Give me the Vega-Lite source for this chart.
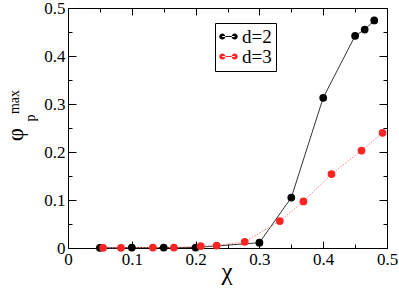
{
  "$schema": "https://vega.github.io/schema/vega-lite/v6.json",
  "width": 319,
  "height": 240,
  "autosize": "none",
  "padding": {"left": 68, "top": 8, "right": 12, "bottom": 42},
  "background": "white",
  "config": {
    "view": {"stroke": null},
    "axis": {
      "labelColor": "black",
      "titleColor": "black",
      "titleFontWeight": "normal",
      "domainColor": "black",
      "domainWidth": 1,
      "tickColor": "black",
      "tickWidth": 1,
      "grid": false,
      "labelFlush": false,
      "labelOverlap": false
    }
  },
  "data": {
    "values": [
      {"chi": 0.05, "phi": 0.0005, "d": "d=2"},
      {"chi": 0.1, "phi": 0.001, "d": "d=2"},
      {"chi": 0.15, "phi": 0.001, "d": "d=2"},
      {"chi": 0.2, "phi": 0.001, "d": "d=2"},
      {"chi": 0.3, "phi": 0.011, "d": "d=2"},
      {"chi": 0.35, "phi": 0.105, "d": "d=2"},
      {"chi": 0.4, "phi": 0.313, "d": "d=2"},
      {"chi": 0.45, "phi": 0.442, "d": "d=2"},
      {"chi": 0.465, "phi": 0.455, "d": "d=2"},
      {"chi": 0.48, "phi": 0.474, "d": "d=2"},
      {"chi": 0.055, "phi": 0.0005, "d": "d=3"},
      {"chi": 0.083, "phi": 0.0005, "d": "d=3"},
      {"chi": 0.133, "phi": 0.001, "d": "d=3"},
      {"chi": 0.166, "phi": 0.001, "d": "d=3"},
      {"chi": 0.208, "phi": 0.004, "d": "d=3"},
      {"chi": 0.233, "phi": 0.005, "d": "d=3"},
      {"chi": 0.277, "phi": 0.013, "d": "d=3"},
      {"chi": 0.332, "phi": 0.056, "d": "d=3"},
      {"chi": 0.369, "phi": 0.097, "d": "d=3"},
      {"chi": 0.413, "phi": 0.154, "d": "d=3"},
      {"chi": 0.46, "phi": 0.203, "d": "d=3"},
      {"chi": 0.493, "phi": 0.24, "d": "d=3"}
    ]
  },
  "layer": [
    {
      "encoding": {
        "x": {
          "field": "chi", "type": "quantitative",
          "scale": {"domain": [0, 0.5], "nice": false, "zero": false},
          "axis": {
            "orient": "bottom",
            "values": [0, 0.05, 0.1, 0.15, 0.2, 0.25, 0.3, 0.35, 0.4, 0.45, 0.5],
            "labelExpr": "abs(datum.value*10 - round(datum.value*10)) < 0.001 ? (datum.value == 0 ? '0' : format(datum.value, '.1f')) : ''",
            "tickSize": {"condition": {"test": "abs(datum.value*10 - round(datum.value*10)) < 0.001", "value": -7}, "value": -4},
            "labelPadding": 10,
            "labelFont": "Liberation Serif",
            "labelFontSize": 17,
            "title": "χ",
            "titleFont": "Liberation Serif",
            "titleFontSize": 25,
            "titleBaseline": "alphabetic",
            "titleAlign": "center",
            "titleX": 158.5,
            "titleY": 31.4
          }
        },
        "y": {
          "field": "phi", "type": "quantitative",
          "scale": {"domain": [0, 0.5], "nice": false, "zero": false},
          "axis": {
            "orient": "left",
            "values": [0, 0.05, 0.1, 0.15, 0.2, 0.25, 0.3, 0.35, 0.4, 0.45, 0.5],
            "labelExpr": "abs(datum.value*10 - round(datum.value*10)) < 0.001 ? (datum.value == 0 ? '0' : format(datum.value, '.1f')) : ''",
            "tickSize": {"condition": {"test": "abs(datum.value*10 - round(datum.value*10)) < 0.001", "value": -8}, "value": -4},
            "labelPadding": 11,
            "labelFont": "Liberation Serif",
            "labelFontSize": 17,
            "title": "p",
            "titleFont": "Liberation Serif",
            "titleFontSize": 14,
            "titleAngle": 270,
            "titleBaseline": "alphabetic",
            "titleAlign": "center",
            "titleX": -33.7,
            "titleY": 109.5
          }
        }
      },
      "layer": [
        {
          "transform": [{"filter": "datum.d == 'd=2'"}],
          "mark": {"type": "line", "color": "#333333", "strokeWidth": 1}
        },
        {
          "transform": [{"filter": "datum.d == 'd=3'"}],
          "mark": {"type": "line", "color": "#ff8080", "strokeWidth": 1, "strokeDash": [1.5, 1.5]}
        },
        {
          "mark": {"type": "circle", "size": 60, "opacity": 1},
          "encoding": {
            "color": {
              "field": "d", "type": "nominal",
              "scale": {"domain": ["d=2", "d=3"], "range": ["#000000", "#ff2424"]},
              "legend": {
                "title": null,
                "orient": "none",
                "legendX": 147,
                "legendY": 15,
                "strokeColor": "black",
                "padding": 4,
                "symbolType": "M-0.67,-0.06H0.67V0.06H-0.67Z M-1,0 a0.33,0.33 0 1,0 0.66,0 a0.33,0.33 0 1,0 -0.66,0 M0.34,0 a0.33,0.33 0 1,0 0.66,0 a0.33,0.33 0 1,0 -0.66,0",
                "symbolSize": 340,
                "symbolStrokeWidth": 0,
                "symbolOpacity": 1,
                "labelFont": "Liberation Serif",
                "labelFontSize": 19,
                "labelColor": "black",
                "labelOffset": 4,
                "rowPadding": 0
              }
            }
          }
        }
      ]
    },
    {
      "mark": {"type": "point", "opacity": 0},
      "encoding": {
        "x": {
          "field": "chi", "type": "quantitative",
          "axis": {
            "orient": "top",
            "values": [0, 0.05, 0.1, 0.15, 0.2, 0.25, 0.3, 0.35, 0.4, 0.45, 0.5],
            "labels": false,
            "tickSize": {"condition": {"test": "abs(datum.value*10 - round(datum.value*10)) < 0.001", "value": -7}, "value": -4},
            "title": "max",
            "titleFont": "Liberation Serif",
            "titleFontSize": 14,
            "titleAngle": 270,
            "titleBaseline": "alphabetic",
            "titleAlign": "center",
            "titleX": -50,
            "titleY": 93.5
          }
        },
        "y": {
          "field": "phi", "type": "quantitative",
          "axis": {
            "orient": "right",
            "values": [0, 0.05, 0.1, 0.15, 0.2, 0.25, 0.3, 0.35, 0.4, 0.45, 0.5],
            "labels": false,
            "tickSize": {"condition": {"test": "abs(datum.value*10 - round(datum.value*10)) < 0.001", "value": -8}, "value": -4},
            "title": "φ",
            "titleFont": "Liberation Serif",
            "titleFontSize": 23,
            "titleAngle": 270,
            "titleBaseline": "middle",
            "titleAlign": "center",
            "titleX": -371.5,
            "titleY": 126
          }
        }
      }
    }
  ],
  "resolve": {"axis": {"x": "independent", "y": "independent"}}
}
